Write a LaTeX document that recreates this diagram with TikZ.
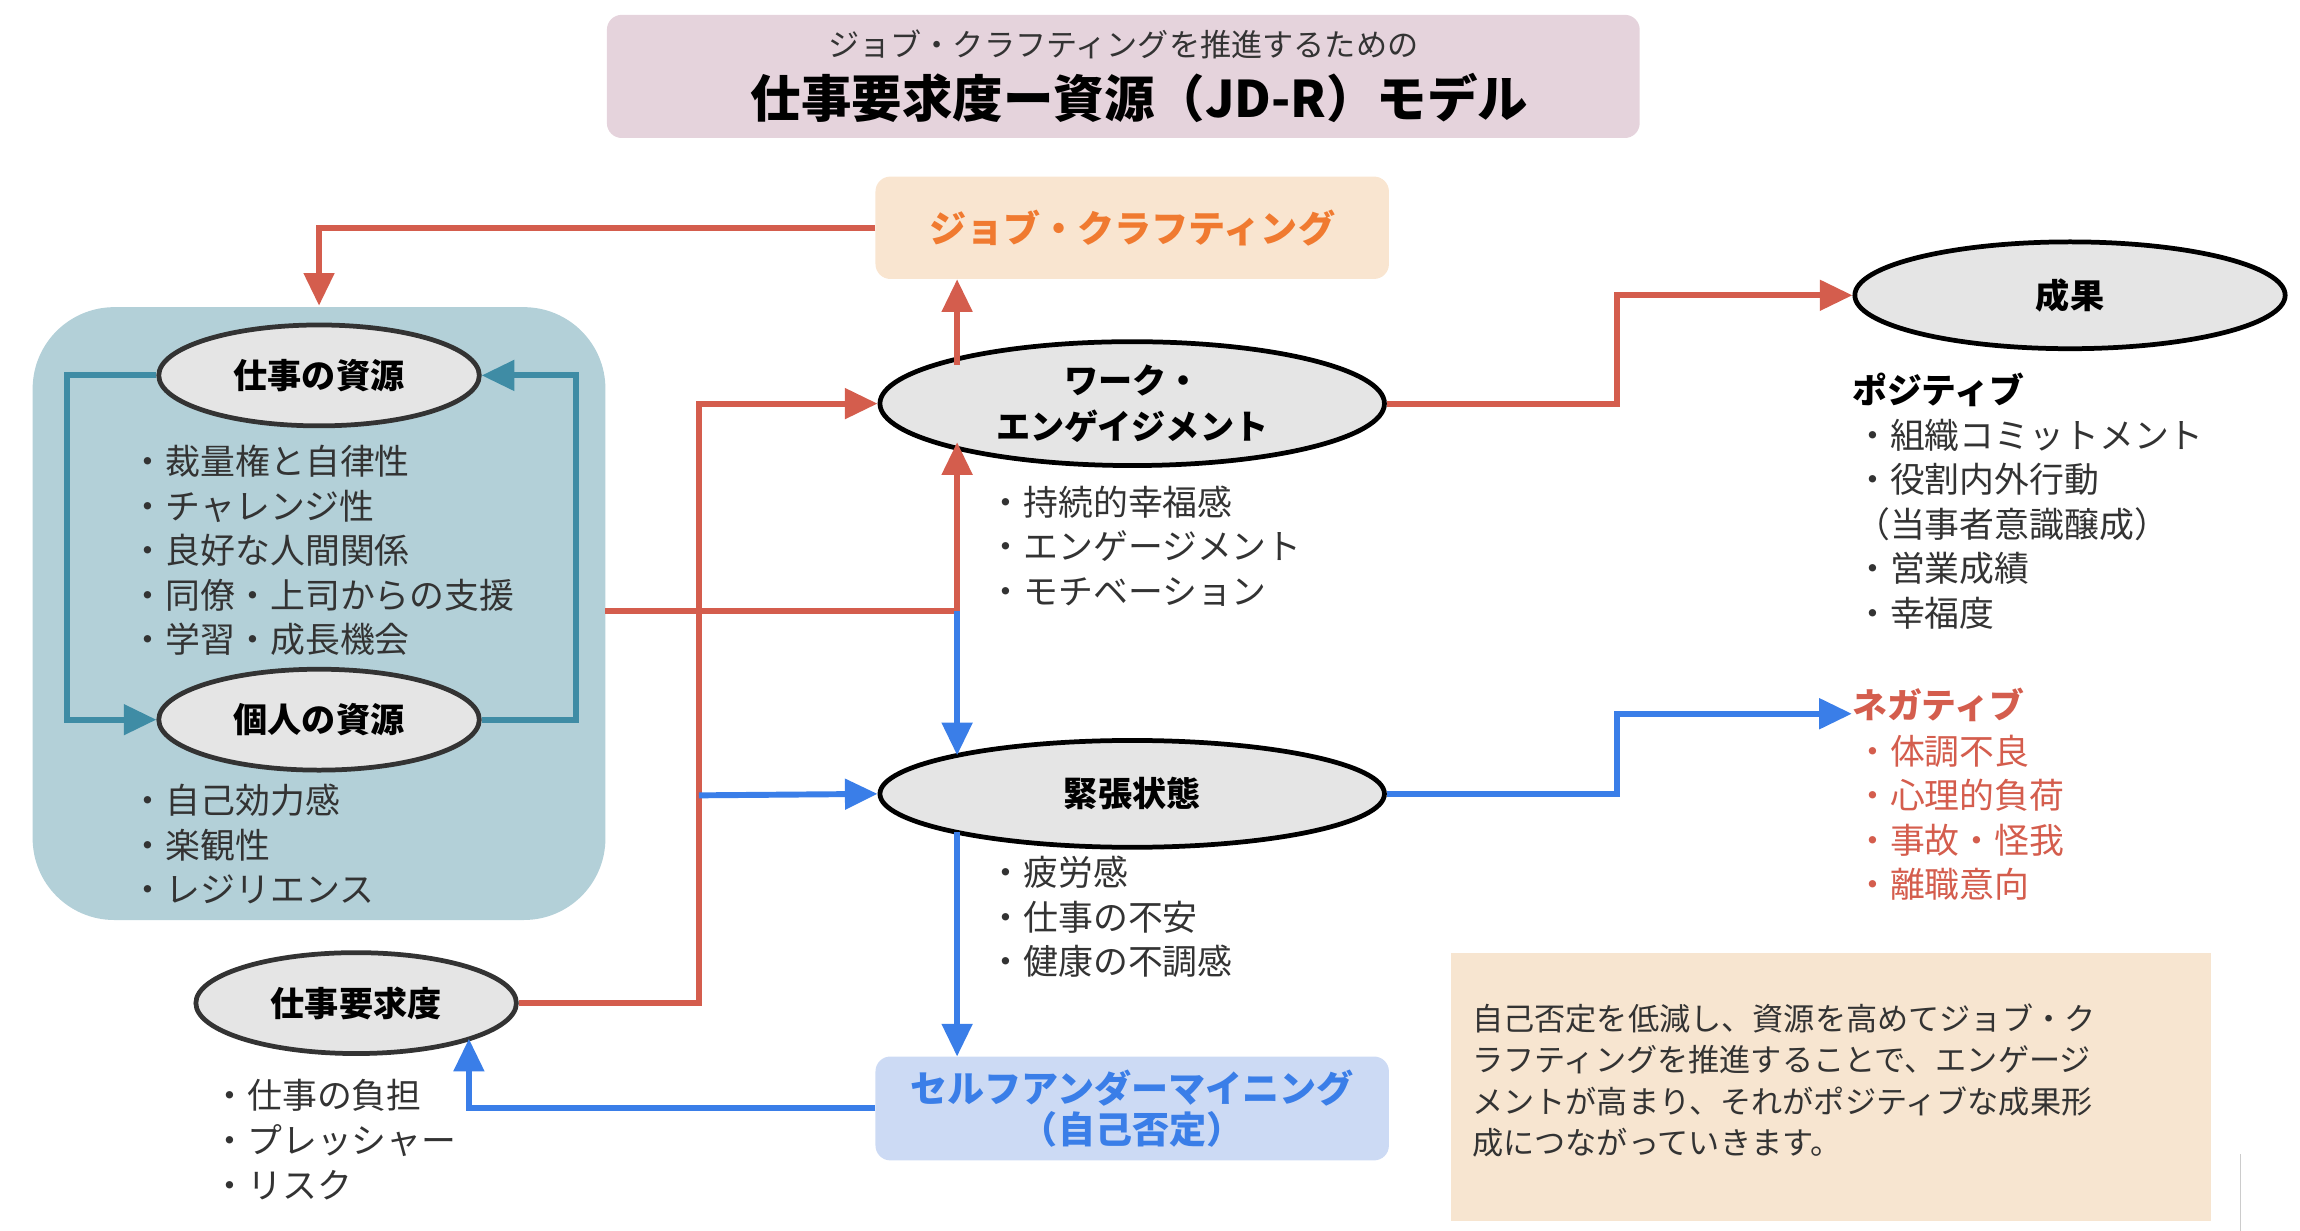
\documentclass[tikz,border=0pt]{standalone}
\usepackage{fontspec}
\setmainfont{Noto Sans CJK JP}
\usetikzlibrary{arrows.meta,shapes.geometric}
\definecolor{red1}{HTML}{D45D4D}
\definecolor{blue1}{HTML}{3A7EE8}
\definecolor{teal1}{HTML}{3F8CA5}
\definecolor{txt}{HTML}{333333}
\begin{document}
\begin{tikzpicture}[x=1pt,y=-1pt,
  ell/.style={ellipse,draw=txt,line width=3.2pt,fill=black!10,minimum width=216,minimum height=68,font=\fontsize{23}{26}\selectfont\bfseries,align=center},
  bigell/.style={ell,minimum width=340,minimum height=72},
  lst/.style={anchor=west,font=\fontsize{23.5}{30}\selectfont,text=txt,align=left,inner sep=0},
  conn/.style={line width=4pt,-{Triangle[length=22pt,width=20pt]}},
  plain/.style={line width=4pt}]
\useasboundingbox (0,0) rectangle (1550,829);
% title
\fill[fill={rgb,255:red,229;green,211;blue,220}, rounded corners=10] (409,10) rectangle (1105,93);
\node[font=\fontsize{21}{24}\selectfont,text=txt] (sub) at (757,30) {ジョブ・クラフティングを推進するための};
\node[font=\fontsize{34}{38}\selectfont\bfseries] (title) at (768,66) {仕事要求度ー資源（JD-R）モデル};
% boxes
\node[fill={rgb,255:red,249;green,229;blue,208},rounded corners=10,minimum width=346,minimum height=69,text={rgb,255:red,240;green,122;blue,48},font=\fontsize{25}{28}\selectfont\bfseries] (jc) at (763,153.5) {ジョブ・クラフティング};
\node[fill={rgb,255:red,179;green,208;blue,216},rounded corners=55,minimum width=386,minimum height=413] (res) at (215,413.5) {};
\node[fill={rgb,255:red,204;green,218;blue,244},rounded corners=10,minimum width=346,minimum height=70,text=blue1,font=\fontsize{25}{28}\selectfont\bfseries,align=center] (su) at (763,747) {セルフアンダーマイニング\\（自己否定）};
\node[fill={rgb,255:red,247;green,229;blue,208},minimum width=512,minimum height=181,inner sep=0] (note) at (1234,732.5) {};
\node[anchor=north west,font=\fontsize{21}{28}\selectfont,text=txt,align=left,inner sep=0] (notet) at (992,676) {自己否定を低減し、資源を高めてジョブ・ク\\ラフティングを推進することで、エンゲージ\\メントが高まり、それがポジティブな成果形\\成につながっていきます。};
\draw[black!20,line width=1pt] (1510,778) -- (1510,838);
% ellipses
\node[ell] (jr) at (215,253) {仕事の資源};
\node[ell] (pr) at (215,485) {個人の資源};
\node[ell] (jd) at (240,676) {仕事要求度};
\node[bigell,draw=black,font=\fontsize{23}{31}\selectfont\bfseries] (we) at (763,272) {ワーク・\\エンゲイジメント};
\node[bigell,draw=black] (st) at (763,535) {緊張状態};
\node[ell,draw=black,minimum width=290,minimum height=72] (out) at (1395,199) {成果};
% lists
\node[lst] (l1) at (88,371) {・裁量権と自律性\\・チャレンジ性\\・良好な人間関係\\・同僚・上司からの支援\\・学習・成長機会};
\node[lst] (l2) at (88,569) {・自己効力感\\・楽観性\\・レジリエンス};
\node[lst] (l3) at (143,768) {・仕事の負担\\・プレッシャー\\・リスク};
\node[lst] (l4) at (666,368) {・持続的幸福感\\・エンゲージメント\\・モチベーション};
\node[lst] (l5) at (666,618) {・疲労感\\・仕事の不安\\・健康の不調感};
\node[lst,font=\fontsize{23.5}{30}\selectfont\bfseries,text=black] (pos) at (1248,263) {ポジティブ};
\node[lst] (l6) at (1250,353) {・組織コミットメント\\・役割内外行動\\（当事者意識醸成）\\・営業成績\\・幸福度};
\node[lst,font=\fontsize{23.5}{30}\selectfont\bfseries,text=red1] (neg) at (1248,475) {ネガティブ};
\node[lst,text=red1] (l7) at (1250,551) {・体調不良\\・心理的負荷\\・事故・怪我\\・離職意向};
% coordinates
\coordinate (resR) at (408,412);
\coordinate (j1) at (645,412);
\coordinate (weB) at (645,298);
\coordinate (weT) at (645,246);
\coordinate (stT) at (645,509);
\coordinate (stB) at (645,561);
\coordinate (suT) at (645,712);
\coordinate (resT) at (215,206);
\coordinate (jdB) at (316,700);
\coordinate (sp) at (471,536);
\coordinate (negA) at (1248,481);
% teal loop
\draw[teal1,conn] (jr.west) -| (45,485) -- (pr.west);
\draw[teal1,conn] (pr.east) -| (388,253) -- (jr.east);
% red connectors
\draw[red1,conn] (jc.west) -| (resT);
\draw[red1,conn] (weT) -- (jc.south -| weT);
\draw[red1,conn] (resR) -- (j1) -- (weB);
\draw[red1,conn] (jd.east) -| (471,272) -- (we.west);
\draw[red1,conn] (we.east) -| (1090,199) -- (out.west);
% blue connectors
\draw[blue1,conn] (j1) -- (stT);
\draw[blue1,conn] (sp) -- (st.west);
\draw[blue1,conn] (st.east) -| (1090,481) -- (negA);
\draw[blue1,conn] (stB) -- (suT);
\draw[blue1,conn] (su.west) -| (jdB);
\end{tikzpicture}
\end{document}
